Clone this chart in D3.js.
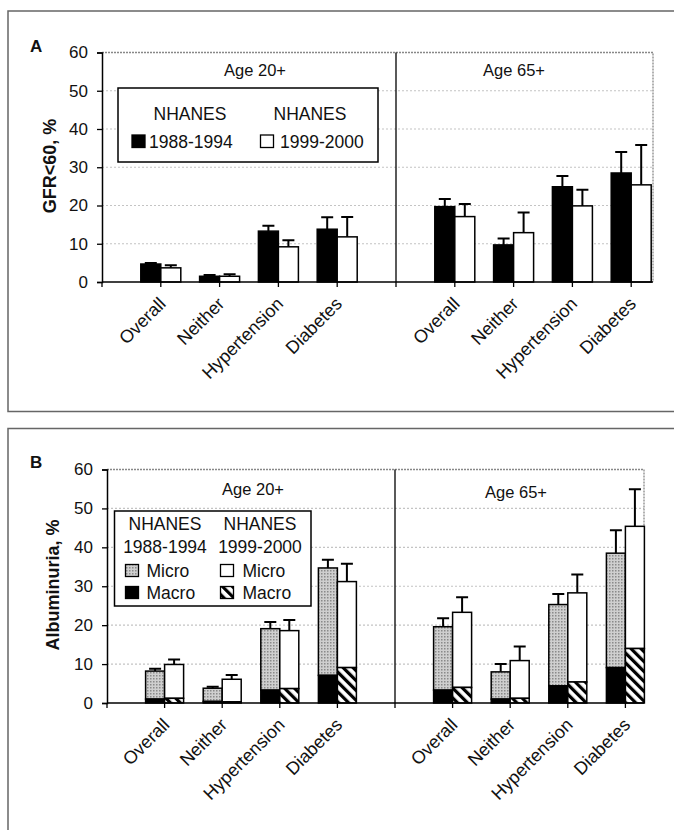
<!DOCTYPE html>
<html>
<head>
<meta charset="utf-8">
<script src="https://cdn.jsdelivr.net/npm/d3@7"></script>
<style>
  body { margin: 0; background: #fff; }
  svg { display: block; }
  text { font-family: Arial, "Liberation Sans", sans-serif; fill: #111; }
</style>
</head>
<body>
<script>
var width = 674, height = 830;

// categories and groups
var categories = ['Overall', 'Neither', 'Hypertension', 'Diabetes'];
var ageGroups = ['Age 20+', 'Age 65+'];
var yTicks = [0, 10, 20, 30, 40, 50, 60];
var surveys = ['1988-1994', '1999-2000'];

// panel A: GFR<60, % (Age 20+ x4, then Age 65+ x4)
var gfr1988 = [4.7, 1.5, 13.3, 13.8, 19.7, 9.7, 24.9, 28.5];
var gfr1988Err = [5.0, 1.8, 14.7, 16.9, 21.7, 11.4, 27.7, 34.0];
var gfr1999 = [3.7, 1.5, 9.2, 11.8, 17.1, 12.9, 19.9, 25.4];
var gfr1999Err = [4.4, 2.0, 10.9, 17.0, 20.4, 18.2, 24.1, 35.8];

// panel B: albuminuria, % (total = micro + macro)
var alb1988Total = [8.2, 3.8, 19.1, 34.7, 19.6, 8.0, 25.3, 38.5];
var alb1988Macro = [1.0, 0.4, 3.3, 7.1, 3.3, 1.0, 4.4, 9.1];
var alb1988Err = [8.8, 4.2, 20.8, 36.8, 21.8, 10.0, 28.0, 44.4];
var alb1999Total = [9.9, 6.1, 18.6, 31.2, 23.3, 10.9, 28.3, 45.4];
var alb1999Macro = [1.2, 0.3, 3.7, 9.1, 4.0, 1.2, 5.4, 14.0];
var alb1999Err = [11.2, 7.2, 21.3, 35.8, 27.2, 14.5, 33.0, 54.9];

var svg = d3.select('body').append('svg')
  .attr('width', width)
  .attr('height', height);

// fills
var defs = svg.append('defs');
var stipple = defs.append('pattern')
  .attr('id', 'stipple')
  .attr('patternUnits', 'userSpaceOnUse')
  .attr('width', 3).attr('height', 3);
stipple.append('rect').attr('width', 3).attr('height', 3).attr('fill', '#cfcfcf');
stipple.append('rect').attr('width', 1.5).attr('height', 1.5).attr('fill', '#8a8a8a');

var hatch = defs.append('pattern')
  .attr('id', 'hatch')
  .attr('patternUnits', 'userSpaceOnUse')
  .attr('width', 7).attr('height', 7)
  .attr('patternTransform', 'rotate(-45)');
hatch.append('rect').attr('width', 7).attr('height', 7).attr('fill', '#fff');
hatch.append('rect').attr('width', 3.2).attr('height', 7).attr('fill', '#000');

// slot index: blank slot before each age group, divider after 5 slots
function slotOf(i) { return Math.floor(i / 4) * 5 + (i % 4) + 1; }

function drawPanel(p) {
  var g = svg.append('g');

  // outer frame (right side runs off the page)
  g.append('rect')
    .attr('x', 8).attr('y', p.frameTop)
    .attr('width', 720).attr('height', p.frameH)
    .attr('fill', 'none')
    .attr('stroke', '#666')
    .attr('stroke-width', 1.5);

  g.append('text')
    .attr('x', 30).attr('y', p.letterY)
    .style('font-size', '17px').style('font-weight', 'bold')
    .text(p.letter);

  var x = d3.scaleLinear().domain([0, 5]).range([p.axisX, p.dividerX]);
  var y = d3.scaleLinear().domain([0, 60]).range([p.bottom, p.top]);

  // gridlines
  g.selectAll('.grid').data(yTicks.filter(function(d){ return d > 0 && d < 60; }))
    .enter().append('line')
      .attr('x1', p.axisX).attr('x2', p.plotRight)
      .attr('y1', function(d){ return y(d); })
      .attr('y2', function(d){ return y(d); })
      .style('stroke', '#c4c4c4')
      .style('stroke-dasharray', '2,2')
      .style('stroke-width', 1.2);

  // plot top and right border (dotted grey)
  g.append('path')
    .attr('d', 'M' + p.axisX + ',' + y(60) + 'H' + p.plotRight + 'V' + y(0))
    .attr('fill', 'none')
    .style('stroke', '#888')
    .style('stroke-dasharray', '2,1')
    .style('stroke-width', 1.3);

  p.draw(g, x, y);

  // y axis
  var yAxis = g.append('g')
    .attr('transform', 'translate(' + p.axisX + ',0)')
    .call(d3.axisLeft(y).tickValues(yTicks).tickSize(5).tickPadding(9));
  yAxis.select('.domain').attr('stroke', '#000').attr('stroke-width', 1.5);
  yAxis.selectAll('.tick line').attr('stroke', '#000').attr('stroke-width', 1.3);
  yAxis.selectAll('.tick text')
    .style('font-size', '17px')
    .style('font-family', 'Arial, "Liberation Sans", sans-serif')
    .attr('fill', '#111');

  // baseline and x ticks
  g.append('line')
    .attr('x1', p.axisX).attr('x2', p.plotRight)
    .attr('y1', y(0)).attr('y2', y(0))
    .style('stroke', '#000').style('stroke-width', 1.5);
  g.selectAll('.xtick').data(d3.range(0, 10))
    .enter().append('line')
      .attr('x1', function(d){ return x(d); })
      .attr('x2', function(d){ return x(d); })
      .attr('y1', y(0)).attr('y2', y(0) + 5)
      .style('stroke', '#000').style('stroke-width', 1.3);

  // divider between age groups
  g.append('line')
    .attr('x1', p.dividerX).attr('x2', p.dividerX)
    .attr('y1', y(60)).attr('y2', y(0))
    .style('stroke', '#000').style('stroke-width', 1.3);

  // category labels
  var labels = d3.range(8).map(function(i){ return categories[i % 4]; });
  g.selectAll('.xlab').data(labels)
    .enter().append('text')
      .attr('text-anchor', 'end')
      .attr('transform', function(d, i){
        return 'translate(' + (x(slotOf(i)) + 6) + ',' + (y(0) + p.labelDy) + ') rotate(-45)';
      })
      .style('font-size', '18px')
      .text(function(d){ return d; });

  // age group titles
  g.selectAll('.age').data(ageGroups)
    .enter().append('text')
      .attr('text-anchor', 'middle')
      .attr('x', function(d, i){ return p.ageX[i]; })
      .attr('y', function(d, i){ return p.ageY[i]; })
      .style('font-size', '16.5px')
      .text(function(d){ return d; });

  // y title
  g.append('text')
    .attr('text-anchor', 'middle')
    .attr('transform', 'translate(' + p.titleX + ',' + p.titleY + ') rotate(-90)')
    .style('font-size', '18px').style('font-weight', 'bold')
    .text(p.title);

  p.legend(g);
}

function errorBars(g, y, xs, tops, errs) {
  g.selectAll(null).data(errs)
    .enter().append('path')
      .attr('d', function(d, i){
        var cx = xs[i];
        return 'M' + cx + ',' + y(tops[i]) + 'V' + y(d) + 'M' + (cx - 6) + ',' + y(d) + 'H' + (cx + 6);
      })
      .attr('fill', 'none')
      .style('stroke', '#000')
      .style('stroke-width', 2);
}

// ---------- panel A ----------
drawPanel({
  letter: 'A', letterY: 52,
  frameTop: 11, frameH: 400.5,
  axisX: 102, dividerX: 396, plotRight: 653,
  top: 52.5, bottom: 282,
  labelDy: 23,
  ageX: [255, 514], ageY: [76, 76],
  title: 'GFR<60, %', titleX: 56, titleY: 166,
  draw: function(g, x, y) {
    var bw = 20;
    var series = [
      { vals: gfr1988, err: gfr1988Err, fill: '#000', off: -bw },
      { vals: gfr1999, err: gfr1999Err, fill: '#fff', off: 0 }
    ];
    series.forEach(function(s) {
      g.selectAll(null).data(s.vals)
        .enter().append('rect')
          .attr('x', function(d, i){ return x(slotOf(i)) + s.off; })
          .attr('y', function(d){ return y(d); })
          .attr('width', bw)
          .attr('height', function(d){ return y(0) - y(d); })
          .attr('fill', s.fill)
          .attr('stroke', '#000')
          .attr('stroke-width', 1.5);
      errorBars(g, y, s.vals.map(function(d, i){ return x(slotOf(i)) + s.off + bw / 2; }), s.vals, s.err);
    });
  },
  legend: function(g) {
    var lg = g.append('g');
    lg.append('rect')
      .attr('x', 118).attr('y', 88).attr('width', 260).attr('height', 74)
      .attr('fill', '#fff').attr('stroke', '#000').attr('stroke-width', 1.5);
    lg.selectAll(null).data(surveys).enter().append('text')
      .attr('x', function(d, i){ return i ? 310 : 190; })
      .attr('y', 120)
      .attr('text-anchor', 'middle')
      .style('font-size', '17.5px')
      .text('NHANES');
    lg.selectAll(null).data(surveys).enter().append('rect')
      .attr('x', function(d, i){ return i ? 260.5 : 132; })
      .attr('y', 135).attr('width', 13).attr('height', 12.5)
      .attr('fill', function(d, i){ return i ? '#fff' : '#000'; })
      .attr('stroke', '#000').attr('stroke-width', 1.3);
    lg.selectAll(null).data(surveys).enter().append('text')
      .attr('x', function(d, i){ return i ? 280 : 149; })
      .attr('y', 148)
      .style('font-size', '17.5px')
      .text(function(d){ return d; });
  }
});

// ---------- panel B ----------
drawPanel({
  letter: 'B', letterY: 468,
  frameTop: 428.5, frameH: 500,
  axisX: 107, dividerX: 395, plotRight: 644,
  top: 469.5, bottom: 703,
  labelDy: 23,
  ageX: [253, 516], ageY: [495, 498],
  title: 'Albuminuria, %', titleX: 59, titleY: 585,
  draw: function(g, x, y) {
    var bw = 19;
    var series = [
      { total: alb1988Total, macro: alb1988Macro, err: alb1988Err, micro: 'url(#stipple)', macroFill: '#000', off: -bw },
      { total: alb1999Total, macro: alb1999Macro, err: alb1999Err, micro: '#fff', macroFill: 'url(#hatch)', off: 0 }
    ];
    series.forEach(function(s) {
      // micro segment
      g.selectAll(null).data(s.total)
        .enter().append('rect')
          .attr('x', function(d, i){ return x(slotOf(i)) + s.off; })
          .attr('y', function(d){ return y(d); })
          .attr('width', bw)
          .attr('height', function(d, i){ return y(s.macro[i]) - y(d); })
          .attr('fill', s.micro)
          .attr('stroke', '#000')
          .attr('stroke-width', 1.5);
      // macro segment
      g.selectAll(null).data(s.macro)
        .enter().append('rect')
          .attr('x', function(d, i){ return x(slotOf(i)) + s.off; })
          .attr('y', function(d){ return y(d); })
          .attr('width', bw)
          .attr('height', function(d){ return y(0) - y(d); })
          .attr('fill', s.macroFill)
          .attr('stroke', '#000')
          .attr('stroke-width', 1.5);
      errorBars(g, y, s.total.map(function(d, i){ return x(slotOf(i)) + s.off + bw / 2; }), s.total, s.err);
    });
  },
  legend: function(g) {
    var lg = g.append('g');
    lg.append('rect')
      .attr('x', 114.5).attr('y', 511).attr('width', 196.5).attr('height', 95)
      .attr('fill', '#fff').attr('stroke', '#000').attr('stroke-width', 1.5);
    lg.selectAll(null).data(surveys).enter().append('text')
      .attr('x', function(d, i){ return i ? 260 : 165; })
      .attr('y', 530)
      .attr('text-anchor', 'middle')
      .style('font-size', '17.5px')
      .text('NHANES');
    lg.selectAll(null).data(surveys).enter().append('text')
      .attr('x', function(d, i){ return i ? 260 : 165; })
      .attr('y', 553)
      .attr('text-anchor', 'middle')
      .style('font-size', '17.5px')
      .text(function(d){ return d; });
    var items = [
      { label: 'Micro', fill: 'url(#stipple)', col: 0, row: 0 },
      { label: 'Macro', fill: '#000', col: 0, row: 1 },
      { label: 'Micro', fill: '#fff', col: 1, row: 0 },
      { label: 'Macro', fill: 'url(#hatch)', col: 1, row: 1 }
    ];
    lg.selectAll(null).data(items).enter().append('rect')
      .attr('x', function(d){ return d.col ? 220.5 : 125.5; })
      .attr('y', function(d){ return d.row ? 586.5 : 564.5; })
      .attr('width', 13).attr('height', 12)
      .attr('fill', function(d){ return d.fill; })
      .attr('stroke', '#000').attr('stroke-width', 1.3);
    lg.selectAll(null).data(items).enter().append('text')
      .attr('x', function(d){ return d.col ? 242.5 : 146.5; })
      .attr('y', function(d){ return d.row ? 599 : 577; })
      .style('font-size', '17.5px')
      .text(function(d){ return d.label; });
  }
});
</script>
</body>
</html>
